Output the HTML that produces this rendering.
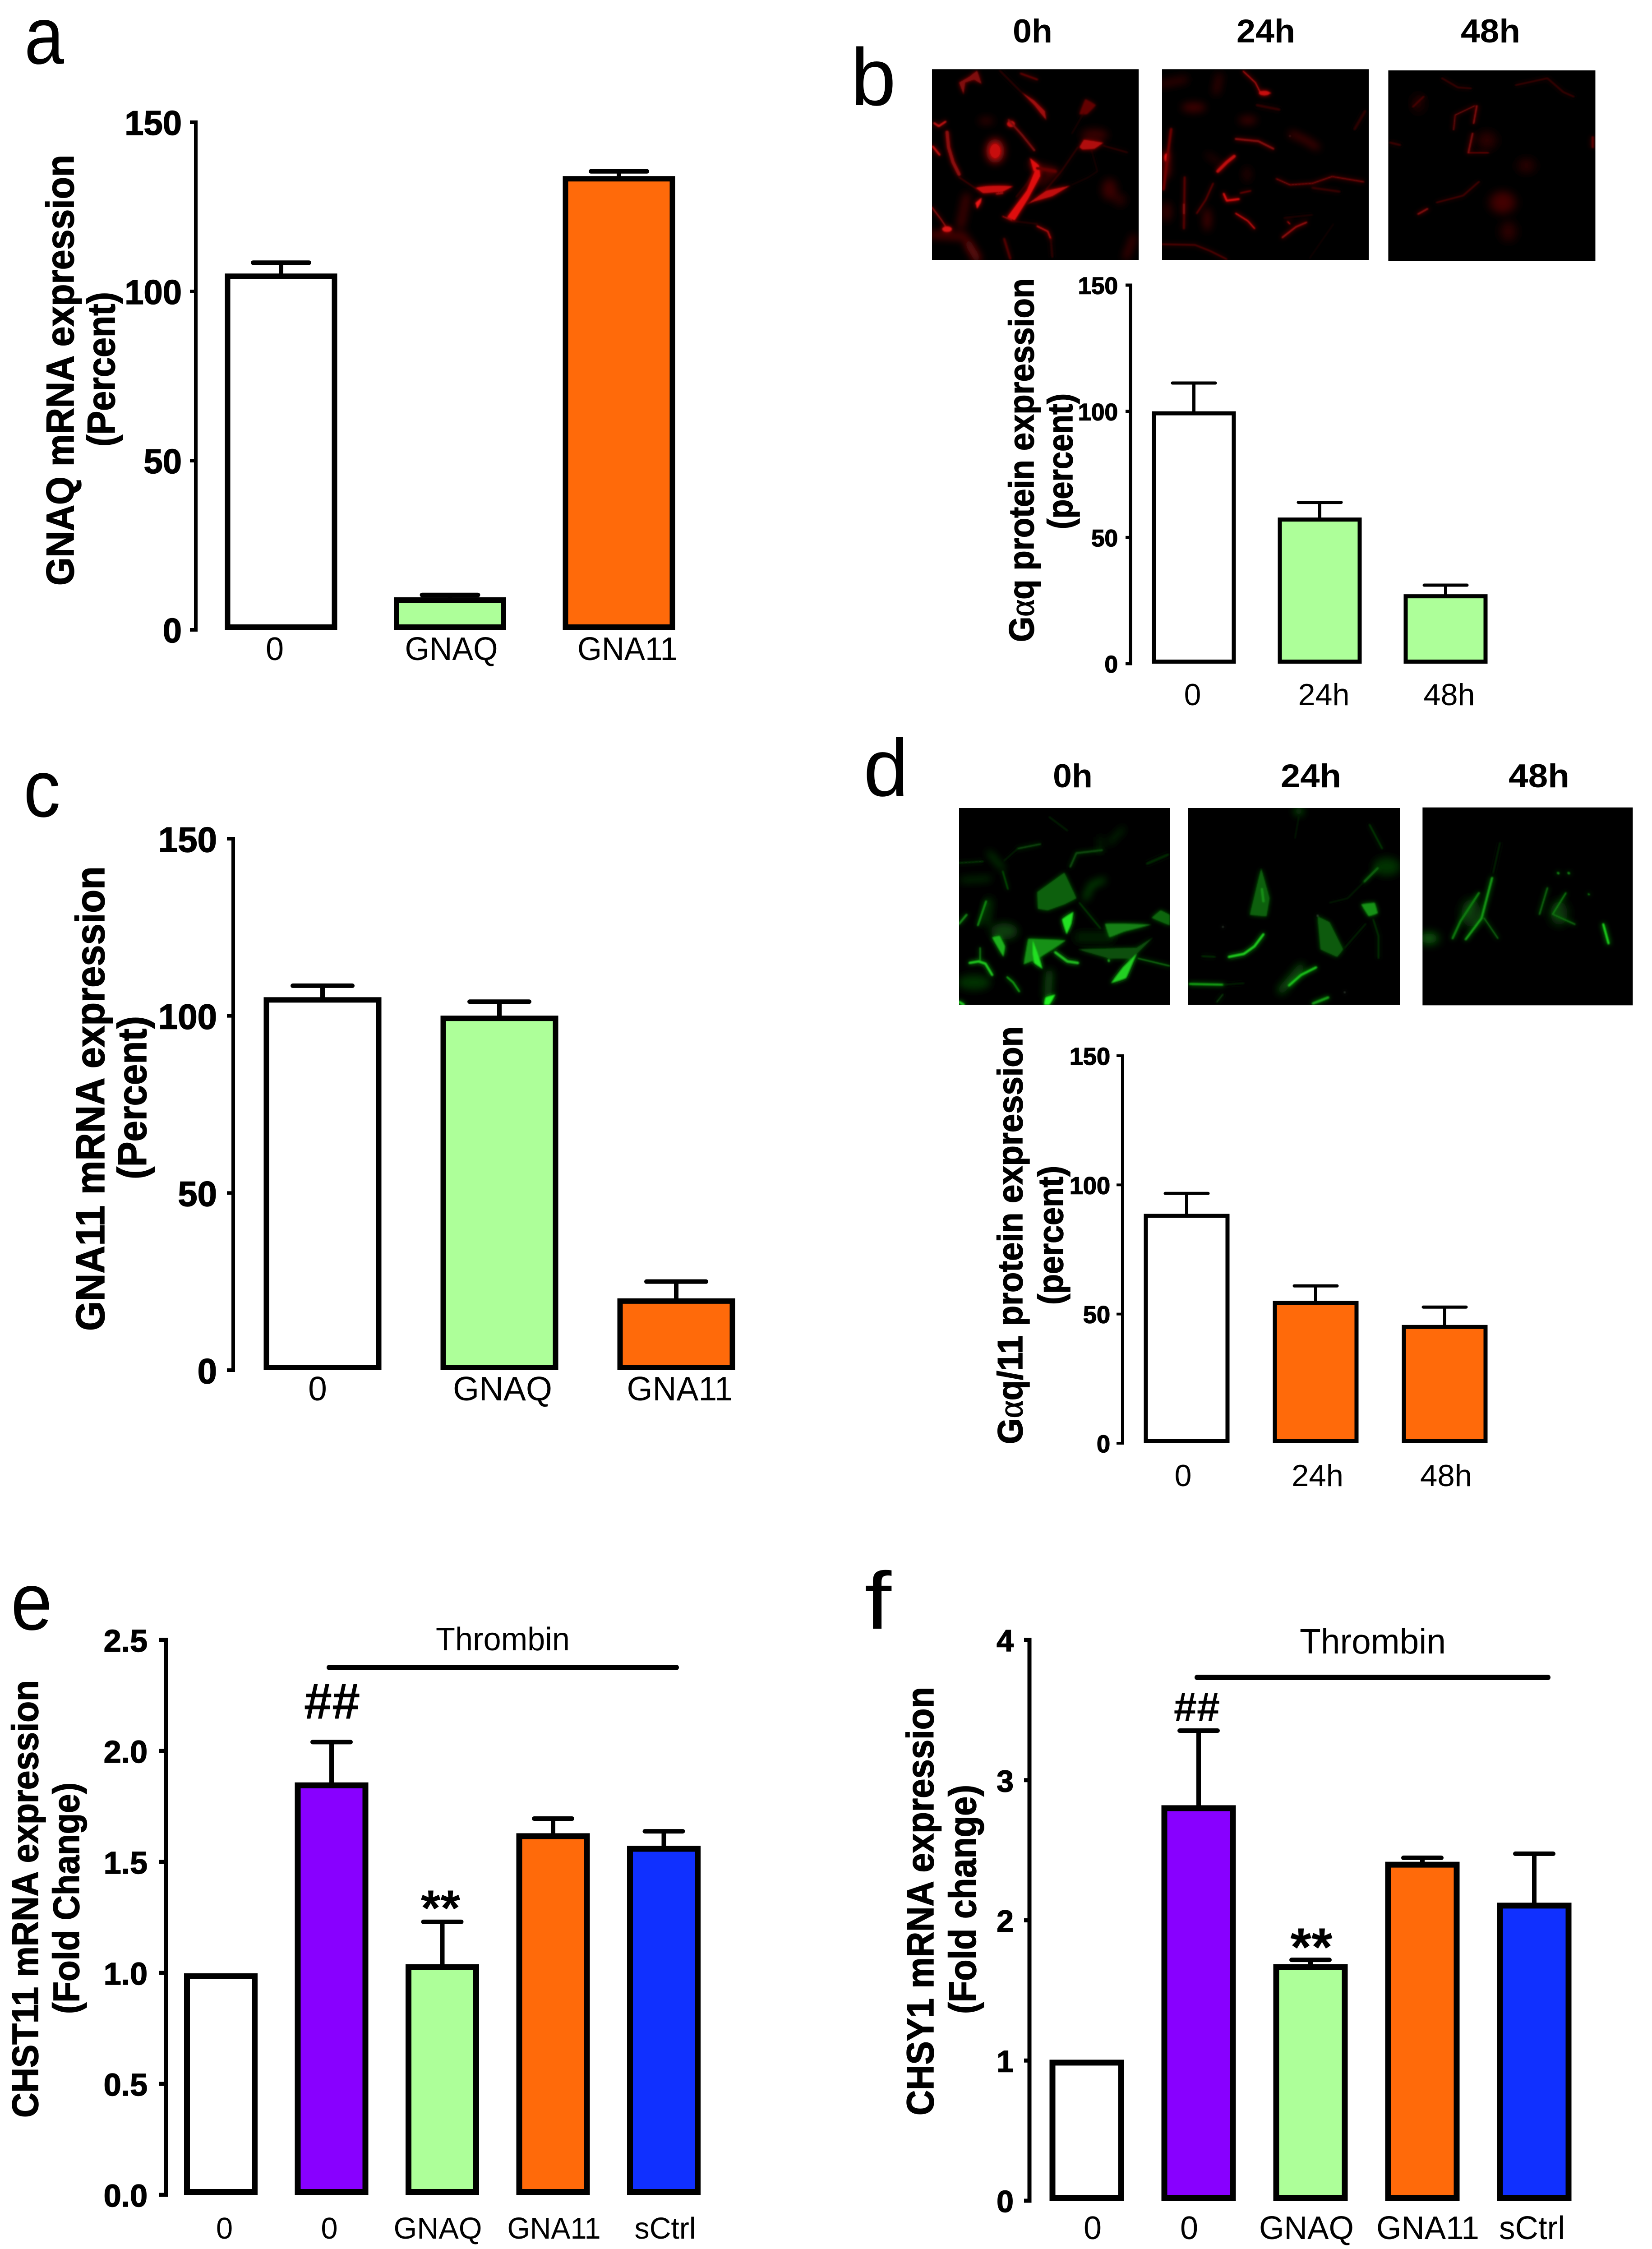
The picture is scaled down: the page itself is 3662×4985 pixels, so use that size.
<!DOCTYPE html>
<html lang="en">
<head>
<meta charset="utf-8">
<title>GNAQ and GNA11 knockdown figure</title>
<style>
html,body{margin:0;padding:0;background:#fff;}
svg{display:block;}
text{font-family:"Liberation Sans",Arial,sans-serif;fill:#000;}
.letter{font-size:180px;font-weight:400;}
.ihead{font-size:73px;font-weight:700;}
.ytitle{font-weight:700;stroke:#000;stroke-width:1.5px;}
.alpha{font-family:"Liberation Serif",serif;font-weight:400;}
</style>
</head>
<body>
<svg id="fig" xmlns="http://www.w3.org/2000/svg" width="3662" height="4985" viewBox="0 0 3662 4985">
<defs>
<filter id="soft" x="-10%" y="-10%" width="120%" height="120%"><feGaussianBlur stdDeviation="1.4" result="s"/><feGaussianBlur in="SourceGraphic" stdDeviation="5" result="w"/><feMerge><feMergeNode in="w"/><feMergeNode in="s"/></feMerge></filter>
<filter id="wide" x="-30%" y="-30%" width="160%" height="160%"><feGaussianBlur stdDeviation="9"/></filter>
<filter id="soft3" x="-5%" y="-5%" width="110%" height="110%"><feGaussianBlur stdDeviation="5" result="s"/><feGaussianBlur in="SourceGraphic" stdDeviation="16" result="w"/><feMerge><feMergeNode in="w"/><feMergeNode in="s"/></feMerge></filter>
<filter id="wide3" x="-10%" y="-10%" width="120%" height="120%"><feGaussianBlur stdDeviation="26"/></filter>
<clipPath id="cb1"><rect x="0" y="0" width="1374" height="1269"/></clipPath>
<clipPath id="cb2"><rect x="0" y="0" width="1374" height="1269"/></clipPath>
<clipPath id="cb3"><rect x="1068" y="153" width="393" height="414"/></clipPath>
<clipPath id="cd1"><rect x="0" y="0" width="1401" height="1308"/></clipPath>
<clipPath id="cd2"><rect x="0" y="0" width="1410" height="1308"/></clipPath>
<clipPath id="cd3"><rect x="1133" y="170" width="399" height="393"/></clipPath>
</defs>
<rect x="0" y="0" width="3662" height="4985" fill="#ffffff"/>

<text class="letter" x="54" y="141" textLength="88" lengthAdjust="spacingAndGlyphs">a</text>
<text class="letter" x="1886" y="233">b</text>
<text class="letter" x="52" y="1810" textLength="82" lengthAdjust="spacingAndGlyphs">c</text>
<text class="letter" x="1914" y="1764">d</text>
<text class="letter" x="24" y="3612" textLength="92" lengthAdjust="spacingAndGlyphs">e</text>
<text class="letter" x="1916" y="3610" textLength="60" lengthAdjust="spacingAndGlyphs">f</text>

<text class="ihead" x="2245" y="94" textLength="88" lengthAdjust="spacingAndGlyphs">0h</text>
<text class="ihead" x="2741" y="94" textLength="130" lengthAdjust="spacingAndGlyphs">24h</text>
<text class="ihead" x="3238" y="94" textLength="132" lengthAdjust="spacingAndGlyphs">48h</text>
<text class="ihead" x="2334" y="1745" textLength="88" lengthAdjust="spacingAndGlyphs">0h</text>
<text class="ihead" x="2839" y="1745" textLength="134" lengthAdjust="spacingAndGlyphs">24h</text>
<text class="ihead" x="3344" y="1745" textLength="135" lengthAdjust="spacingAndGlyphs">48h</text>

<!-- Red micrographs -->
<g transform="translate(2066,153) scale(0.33333)" fill="none" stroke-linecap="round" stroke-linejoin="round">
  <rect width="1374" height="1269" fill="#000"/>
  <g clip-path="url(#cb1)">
    <g filter="url(#wide3)">
      <ellipse cx="420" cy="545" rx="60" ry="80" fill="#a00a0a"/>
      <ellipse cx="1180" cy="800" rx="50" ry="70" fill="#3a0303"/>
      <ellipse cx="1250" cy="870" rx="40" ry="40" fill="#2c0202"/>
      <ellipse cx="360" cy="345" rx="50" ry="20" fill="#3c0303"/>
      <ellipse cx="1080" cy="440" rx="90" ry="40" fill="#3a0303"/>
      <path d="M230 850 L190 1040" stroke="#420404" stroke-width="50"/>
      <path d="M660 640 L820 680 L720 760" stroke="#4a0404" stroke-width="40"/>
      <path d="M1340 1120 L1290 1250" stroke="#4a0404" stroke-width="36"/>
      <path d="M240 1160 L300 1260" stroke="#800808" stroke-width="46"/>
      <path d="M0 1100 L220 1115" stroke="#600606" stroke-width="40"/>
    </g>
    <g filter="url(#soft3)">
      <path d="M500 985 L630 810 L680 690 L650 590 L710 640 L720 710 L640 860 L550 1005 Z" fill="#e01010"/>
      <path d="M630 900 L760 810 L920 775 L800 845 L680 880 Z" fill="#c00c0c"/>
      <path d="M290 790 Q390 770 540 780 L470 815 L340 825 Z" fill="#c80e0e"/>
      <path d="M300 930 L290 890 L330 855 L325 885 Z" fill="#f01818"/>
      <path d="M180 90 L250 50 L300 10 L330 100 L280 70 L220 90 L210 170 Z" fill="#800808"/>
      <ellipse cx="525" cy="365" rx="26" ry="20" fill="#c00c0c"/>
      <ellipse cx="420" cy="545" rx="34" ry="46" fill="#c81010"/>
      <path d="M590 150 L680 210 L750 280 L760 340 L680 240 Z" fill="#a00a0a"/>
      <path d="M510 340 L600 440 L680 540" stroke="#780707" stroke-width="14"/>
      <path d="M980 520 L1010 470 L1140 490 L1080 530 L1000 535 Z" fill="#b00a0a"/>
      <path d="M980 300 L1020 200 L1090 240 L1030 300 Z" fill="#640606"/>
      <path d="M100 420 L110 520 L140 620 L180 700" stroke="#8c0808" stroke-width="22"/>
      <path d="M15 360 L45 380 L90 350" stroke="#d81212" stroke-width="11"/>
      <path d="M5 515 L50 570" stroke="#c80c0c" stroke-width="13"/>
      <path d="M0 920 L60 1000 L100 1060" stroke="#a00a0a" stroke-width="8"/>
      <ellipse cx="100" cy="1065" rx="32" ry="18" fill="#d81212"/>
      <path d="M700 1045 L770 1080 L790 1130" stroke="#b80a0a" stroke-width="11"/>
      <path d="M470 980 L530 1005" stroke="#a00a0a" stroke-width="8"/>
      <path d="M530 1010 L700 1030" stroke="#500505" stroke-width="4"/>
      <path d="M480 1130 L520 1260" stroke="#560505" stroke-width="14"/>
      <path d="M790 1130 L800 1250" stroke="#380303" stroke-width="10"/>
      <path d="M970 520 L860 680 L760 800" stroke="#640606" stroke-width="4"/>
      <path d="M1060 540 L1100 680 L1040 720 L930 770" stroke="#420404" stroke-width="3"/>
      <path d="M1140 510 L1300 555" stroke="#560505" stroke-width="5"/>
      <path d="M680 680 L640 750 L560 850" stroke="#480404" stroke-width="6"/>
      <path d="M700 660 L820 680" stroke="#640606" stroke-width="20"/>
      <path d="M300 800 L180 720" stroke="#560505" stroke-width="6"/>
      <path d="M590 30 L700 70" stroke="#700606" stroke-width="10"/>
      <path d="M1010 290 L930 430" stroke="#380303" stroke-width="4"/>
      <path d="M430 830 L470 825" stroke="#b00a0a" stroke-width="10"/>
      <path d="M450 10 L590 150" stroke="#400404" stroke-width="6"/>
    </g>
  </g>
  <rect width="1374" height="3" fill="#555"/>
</g>
<g transform="translate(2576,153) scale(0.33333)" fill="none" stroke-linecap="round" stroke-linejoin="round">
  <rect width="1374" height="1269" fill="#000"/>
  <g clip-path="url(#cb2)">
    <g filter="url(#wide3)">
      <path d="M0 100 L150 70" stroke="#300303" stroke-width="46"/>
      <ellipse cx="210" cy="255" rx="80" ry="30" fill="#440404"/>
      <path d="M380 50 L360 150" stroke="#300303" stroke-width="46"/>
      <ellipse cx="570" cy="340" rx="60" ry="24" fill="#440404"/>
      <path d="M300 570 L390 630" stroke="#3a0303" stroke-width="22"/>
      <ellipse cx="300" cy="1000" rx="24" ry="76" fill="#480404"/>
      <ellipse cx="30" cy="950" rx="32" ry="64" fill="#380303"/>
      <path d="M860 430 L950 470 L1030 520" stroke="#580505" stroke-width="32"/>
      <path d="M30 560 L30 700" stroke="#600606" stroke-width="40"/>
      <ellipse cx="565" cy="700" rx="24" ry="50" fill="#2c0202"/>
    </g>
    <g filter="url(#soft3)">
      <ellipse cx="28" cy="590" rx="12" ry="28" fill="#f01616"/>
      <path d="M60 400 L40 550 L10 800" stroke="#700606" stroke-width="16"/>
      <path d="M540 15 L620 90 L650 150 L720 160" stroke="#c00c0c" stroke-width="8"/>
      <ellipse cx="680" cy="160" rx="36" ry="15" fill="#c80c0c"/>
      <path d="M490 465 L640 480 L740 530" stroke="#8c0808" stroke-width="13"/>
      <path d="M370 680 L430 620 L480 580" stroke="#c00c0c" stroke-width="20"/>
      <path d="M340 760 L290 870 L230 960" stroke="#800808" stroke-width="7"/>
      <path d="M150 720 L145 1060" stroke="#600606" stroke-width="12"/>
      <path d="M145 900 L145 960" stroke="#900808" stroke-width="12"/>
      <path d="M410 830 L430 875 L510 865" stroke="#e01010" stroke-width="13"/>
      <path d="M520 825 L590 810" stroke="#a00a0a" stroke-width="6"/>
      <path d="M490 960 L570 1010 L615 1060" stroke="#dc1010" stroke-width="9"/>
      <path d="M760 730 L850 770 L1000 760 L1130 715 L1340 750" stroke="#8c0808" stroke-width="8"/>
      <path d="M1000 790 L1180 815" stroke="#440404" stroke-width="10"/>
      <path d="M800 1120 L890 1050 L960 1020" stroke="#a00a0a" stroke-width="11"/>
      <path d="M810 990 L1000 970" stroke="#3a0303" stroke-width="5"/>
      <path d="M835 1015 L850 1030" stroke="#d01010" stroke-width="7"/>
      <path d="M0 1165 L220 1170 L320 1210 L430 1265" stroke="#800808" stroke-width="6"/>
      <path d="M630 240 L780 270" stroke="#3a0303" stroke-width="12"/>
      <path d="M1350 280 L1280 400" stroke="#300303" stroke-width="14"/>
      <path d="M980 1260 L1140 1030" stroke="#300303" stroke-width="3"/>
      <path d="M850 445 L851 446" stroke="#a04040" stroke-width="6"/>
    </g>
  </g>
  <rect width="1374" height="3" fill="#555"/>
</g>
<g transform="translate(1830,0) scale(1.168,1.02)" fill="none" stroke-linecap="round" stroke-linejoin="round">
  <rect x="1068" y="153" width="393" height="414" fill="#000"/>
  <g clip-path="url(#cb3)">
    <g filter="url(#wide)">
      <ellipse cx="1330" cy="360" rx="16" ry="16" fill="#2c0202"/>
      <ellipse cx="1285" cy="440" rx="24" ry="24" fill="#420404"/>
      <ellipse cx="1296" cy="503" rx="14" ry="22" fill="#2e0202"/>
      <ellipse cx="1125" cy="225" rx="10" ry="22" fill="#220202"/>
      <ellipse cx="1255" cy="305" rx="18" ry="20" fill="#2c0202"/>
    </g>
    <g filter="url(#soft)">
      <path d="M1192 282 L1195 250 L1232 230" stroke="#700707" stroke-width="2.5"/>
      <path d="M1230 268 L1236 230" stroke="#900808" stroke-width="3"/>
      <path d="M1220 332 L1228 290" stroke="#800707" stroke-width="3.5"/>
      <path d="M1220 332 L1258 332" stroke="#800707" stroke-width="2"/>
      <path d="M1240 395 L1210 425 L1160 440" stroke="#480404" stroke-width="3"/>
      <path d="M1125 465 L1142 454" stroke="#800707" stroke-width="4"/>
      <path d="M1135 210 L1115 232" stroke="#500505" stroke-width="3"/>
      <path d="M1170 170 L1200 190 L1225 192" stroke="#3c0303" stroke-width="3"/>
      <path d="M1310 185 L1370 170 L1400 200 L1420 210" stroke="#3c0303" stroke-width="3"/>
      <path d="M1456 298 L1456 320" stroke="#640606" stroke-width="4"/>
      <path d="M1072 310 L1090 315" stroke="#3c0303" stroke-width="4"/>
    </g>
  </g>
</g>

<!-- Green micrographs -->
<g transform="translate(2126,1791) scale(0.33333)" fill="none" stroke-linecap="round" stroke-linejoin="round">
  <rect width="1401" height="1308" fill="#000"/>
  <g clip-path="url(#cd1)">
    <g filter="url(#wide3)">
      <ellipse cx="100" cy="1160" rx="110" ry="50" fill="#063206"/>
      <ellipse cx="300" cy="820" rx="90" ry="55" fill="#083c08"/>
      <path d="M600 1100 L590 1240" stroke="#084808" stroke-width="50"/>
      <path d="M840 600 L880 510 L960 480" stroke="#0a560a" stroke-width="30"/>
      <path d="M1000 230 L1090 140" stroke="#073807" stroke-width="24"/>
      <path d="M940 200 L940 290" stroke="#063206" stroke-width="22"/>
      <path d="M200 300 L290 400" stroke="#0a500a" stroke-width="24"/>
      <path d="M20 480 L200 470" stroke="#084008" stroke-width="24"/>
      <path d="M200 620 L180 760" stroke="#063206" stroke-width="50"/>
      <path d="M800 860 L1000 860" stroke="#042004" stroke-width="70"/>
    </g>
    <g filter="url(#soft3)">
      <path d="M685 740 L760 690 L745 770 L715 840 Z" fill="#22e022"/>
      <path d="M520 560 L700 430 L780 600 L700 640 L590 680 L525 670 Z" fill="#116011"/>
      <path d="M460 870 L710 880 L620 940 L540 990 L430 1040 Z" fill="#169016"/>
      <path d="M490 880 L520 960 L555 1070 L500 1030 L490 970 Z" fill="#22e022"/>
      <path d="M640 960 L720 1020 L790 1030" stroke="#22c022" stroke-width="16"/>
      <path d="M790 940 L1180 930 L1290 860 L1150 1000 L1000 1000 Z" fill="#0c500c"/>
      <path d="M1010 1165 L1090 1060 L1180 970 L1110 1130 Z" fill="#20d020"/>
      <path d="M1190 1000 L1400 1050" stroke="#14a014" stroke-width="6"/>
      <path d="M970 770 L1100 770 L1280 775 L1100 820 L1000 860 Z" fill="#128012"/>
      <path d="M1280 730 L1340 680 L1400 710 L1400 780 Z" fill="#0e660e"/>
      <path d="M220 860 L270 850 L305 920 L295 990 Z" fill="#1ab01a"/>
      <path d="M70 1030 L130 1020 L175 1035 L220 1110" stroke="#20d020" stroke-width="14"/>
      <path d="M140 930 L140 1010" stroke="#169016" stroke-width="8"/>
      <path d="M320 1125 L360 1160 L400 1220" stroke="#18b018" stroke-width="10"/>
      <path d="M565 1308 L575 1260 L640 1240 L600 1308 Z" fill="#22f022"/>
      <path d="M125 780 L180 620" stroke="#18a018" stroke-width="10"/>
      <path d="M0 770 L50 710" stroke="#169016" stroke-width="12"/>
      <path d="M290 420 L325 540" stroke="#107810" stroke-width="6"/>
      <path d="M0 365 L160 355" stroke="#084008" stroke-width="8"/>
      <path d="M390 270 L540 240" stroke="#0a500a" stroke-width="10"/>
      <path d="M300 350 L390 270" stroke="#063606" stroke-width="5"/>
      <path d="M740 390 L780 300 L950 280" stroke="#0a500a" stroke-width="12"/>
      <path d="M1250 370 L1390 310" stroke="#063206" stroke-width="12"/>
      <path d="M800 630 L940 800" stroke="#0e660e" stroke-width="5"/>
      <path d="M600 60 L720 150" stroke="#052805" stroke-width="8"/>
      <path d="M0 1290 L30 1308" stroke="#20d020" stroke-width="16"/>
      <path d="M995 1012 L996 1018" stroke="#20c020" stroke-width="12"/>
    </g>
  </g>
</g>
<g transform="translate(2634,1791) scale(0.33333)" fill="none" stroke-linecap="round" stroke-linejoin="round">
  <rect width="1410" height="1308" fill="#000"/>
  <g clip-path="url(#cd2)">
    <g filter="url(#wide3)">
      <ellipse cx="1320" cy="390" rx="90" ry="60" fill="#063206"/>
      <path d="M620 1210 L750 1060" stroke="#0c500c" stroke-width="50"/>
      <ellipse cx="735" cy="20" rx="28" ry="28" fill="#0c5a0c"/>
    </g>
    <g filter="url(#soft3)">
      <path d="M270 990 L370 970 L440 920 L500 840" stroke="#22d822" stroke-width="14"/>
      <path d="M90 985 L180 990" stroke="#084408" stroke-width="6"/>
      <path d="M10 1170 L230 1175" stroke="#18b018" stroke-width="12"/>
      <path d="M230 1175 L370 1165" stroke="#063206" stroke-width="6"/>
      <path d="M485 400 L540 600 L520 720 L410 710 Z" fill="#0e600e"/>
      <path d="M490 540 L500 620" stroke="#149014" stroke-width="16"/>
      <path d="M670 1180 L750 1110 L850 1060" stroke="#1cc81c" stroke-width="14"/>
      <path d="M860 720 L940 760 L1030 940 L990 990 L880 940 Z" fill="#0c5a0c"/>
      <path d="M1150 640 L1240 630 L1260 700 L1200 720 Z" fill="#149014"/>
      <path d="M1170 490 L1260 400" stroke="#0e660e" stroke-width="14"/>
      <path d="M940 630 L1060 600 L1170 490" stroke="#063206" stroke-width="5"/>
      <path d="M1205 110 L1290 270" stroke="#0c5a0c" stroke-width="6"/>
      <path d="M1230 740 L1265 850 L1265 1000" stroke="#0c5a0c" stroke-width="5"/>
      <path d="M1040 930 L1180 770" stroke="#063606" stroke-width="6"/>
      <path d="M830 1300 L930 1260" stroke="#18a018" stroke-width="16"/>
      <path d="M735 60 L710 200" stroke="#052805" stroke-width="5"/>
      <path d="M230 1240 L190 1290" stroke="#084408" stroke-width="8"/>
      <path d="M230 790 L231 791" stroke="#90b090" stroke-width="6"/>
      <path d="M1040 1225 L1041 1226" stroke="#90b090" stroke-width="6"/>
      <path d="M860 715 L861 716" stroke="#507050" stroke-width="8"/>
    </g>
  </g>
</g>
<g transform="translate(1830,1600) scale(1.168,1.116)" fill="none" stroke-linecap="round" stroke-linejoin="round">
  <rect x="1133" y="170" width="399" height="393" fill="#000"/>
  <g clip-path="url(#cd3)">
    <g filter="url(#wide)">
      <ellipse cx="1145" cy="430" rx="18" ry="10" fill="#0c700c"/>
      <ellipse cx="1225" cy="380" rx="18" ry="28" fill="#073a07"/>
      <ellipse cx="1392" cy="380" rx="16" ry="24" fill="#073a07"/>
    </g>
    <g filter="url(#soft)">
      <path d="M1190 430 L1205 396 L1240 340" stroke="#0e800e" stroke-width="4"/>
      <path d="M1215 432 L1245 390 L1265 310" stroke="#14a014" stroke-width="4"/>
      <path d="M1250 390 L1276 430" stroke="#0c700c" stroke-width="2.5"/>
      <path d="M1355 382 L1370 330" stroke="#0c700c" stroke-width="3"/>
      <path d="M1380 382 L1405 340" stroke="#0e800e" stroke-width="3"/>
      <path d="M1380 382 L1422 402" stroke="#0c700c" stroke-width="3"/>
      <path d="M1476 402 L1486 440" stroke="#1ed81e" stroke-width="4"/>
      <path d="M1390 300 L1391 301" stroke="#149a14" stroke-width="4"/>
      <path d="M1410 300 L1411 301" stroke="#149a14" stroke-width="4"/>
      <path d="M1448 342 L1449 343" stroke="#108c10" stroke-width="3"/>
      <path d="M1267 300 L1280 240" stroke="#063206" stroke-width="2"/>
    </g>
  </g>
</g>

<!-- Y titles -->
<g>
  <text class="ytitle" font-size="86" transform="translate(163,1298) rotate(-90)" textLength="955" lengthAdjust="spacingAndGlyphs">GNAQ mRNA expression</text>
  <text class="ytitle" font-size="86" transform="translate(254,990) rotate(-90)" textLength="343" lengthAdjust="spacingAndGlyphs">(Percent)</text>
  <text class="ytitle" font-size="78" transform="translate(2291,1423) rotate(-90)" textLength="806" lengthAdjust="spacingAndGlyphs">G<tspan class="alpha">α</tspan>q protein expression</text>
  <text class="ytitle" font-size="78" transform="translate(2377,1173) rotate(-90)" textLength="301" lengthAdjust="spacingAndGlyphs">(percent)</text>
  <text class="ytitle" font-size="90" transform="translate(231,2950) rotate(-90)" textLength="1030" lengthAdjust="spacingAndGlyphs">GNA11 mRNA expression</text>
  <text class="ytitle" font-size="90" transform="translate(324,2614) rotate(-90)" textLength="362" lengthAdjust="spacingAndGlyphs">(Percent)</text>
  <text class="ytitle" font-size="78" transform="translate(2266,3201) rotate(-90)" textLength="926" lengthAdjust="spacingAndGlyphs">G<tspan class="alpha">α</tspan>q/11 protein expression</text>
  <text class="ytitle" font-size="78" transform="translate(2356,2892) rotate(-90)" textLength="308" lengthAdjust="spacingAndGlyphs">(percent)</text>
  <text class="ytitle" font-size="82" transform="translate(84,4694) rotate(-90)" textLength="970" lengthAdjust="spacingAndGlyphs">CHST11 mRNA expression</text>
  <text class="ytitle" font-size="82" transform="translate(175,4464) rotate(-90)" textLength="513" lengthAdjust="spacingAndGlyphs">(Fold Change)</text>
  <text class="ytitle" font-size="84" transform="translate(2069,4689) rotate(-90)" textLength="950" lengthAdjust="spacingAndGlyphs">CHSY1 mRNA expression</text>
  <text class="ytitle" font-size="84" transform="translate(2163,4464) rotate(-90)" textLength="508" lengthAdjust="spacingAndGlyphs">(Fold change)</text>
</g>

<!-- Thrombin brackets -->
<text x="966" y="3658" font-size="72" textLength="297" lengthAdjust="spacingAndGlyphs">Thrombin</text>
<line x1="730" y1="3696" x2="1499" y2="3696" stroke="#000" stroke-width="12" stroke-linecap="round"/>
<text x="2881" y="3665" font-size="78" textLength="324" lengthAdjust="spacingAndGlyphs">Thrombin</text>
<line x1="2654" y1="3718" x2="3431" y2="3718" stroke="#000" stroke-width="12" stroke-linecap="round"/>

<g id="charts"></g>
</svg>

<script>
// ---- Chart data ----
const aCategories = ['0', 'GNAQ', 'GNA11'];
const aValues = [104.5, 8.8, 133.3];
const aErrorTops = [108.5, 10.3, 135.5];
const aTickLabels = ['0', '50', '100', '150'];

const bCategories = ['0', '24h', '48h'];
const bValues = [99.2, 57.1, 26.7];
const bErrorTops = [111.2, 63.9, 31.1];
const bTickLabels = ['0', '50', '100', '150'];

const cCategories = ['0', 'GNAQ', 'GNA11'];
const cValues = [104.5, 99.3, 19.5];
const cErrorTops = [108.5, 104, 25];
const cTickLabels = ['0', '50', '100', '150'];

const dCategories = ['0', '24h', '48h'];
const dValues = [88, 54.3, 45];
const dErrorTops = [96.7, 60.9, 52.7];
const dTickLabels = ['0', '50', '100', '150'];

const eCategories = ['0', '0', 'GNAQ', 'GNA11', 'sCtrl'];
const eValues = [0.985, 1.845, 1.026, 1.616, 1.559];
const eErrorTops = [0.985, 2.04, 1.23, 1.695, 1.638];
const eTickLabels = ['0.0', '0.5', '1.0', '1.5', '2.0', '2.5'];

const fCategories = ['0', '0', 'GNAQ', 'GNA11', 'sCtrl'];
const fValues = [0.985, 2.8, 1.667, 2.397, 2.105];
const fErrorTops = [0.985, 3.353, 1.718, 2.446, 2.475];
const fTickLabels = ['0', '1', '2', '3', '4'];

// ---- Styling ----
const WHITE = '#ffffff', GREEN = '#adff99', ORANGE = '#ff6a0a', PURPLE = '#8800ff', BLUE = '#1030ff';
const svgNS = 'http://www.w3.org/2000/svg';
const root = document.getElementById('charts');

function node(tag, attrs, parent, name) {
  const el = document.createElementNS(svgNS, tag);
  for (const k in attrs) el.setAttribute(k, attrs[k]);
  
  
  parent.appendChild(el);
  return el;
}

function drawChart(id, cats, values, errs, tickLabels, fills, L) {
  const g = node('g', {}, root, 'chart-' + id);
  const maxV = parseFloat(tickLabels[tickLabels.length - 1]);
  const y = v => L.y0 - (v / maxV) * (L.y0 - L.yTop);
  const x = i => L.first + i * L.step;

  // axis
  node('line', {x1: L.axisX, x2: L.axisX, y1: L.yTop - L.axisW / 2, y2: L.y0 + L.axisW / 2, stroke: '#000', 'stroke-width': L.axisW}, g, 'y-axis-' + id);
  tickLabels.forEach(lab => {
    const v = parseFloat(lab);
    node('line', {x1: L.tickLeft, x2: L.axisX, y1: y(v), y2: y(v), stroke: '#000', 'stroke-width': L.axisW}, g, 'y-tick-' + id + '-' + lab);
    const t = node('text', {x: L.labelRight, y: y(v) + L.tickFont * 0.37, 'text-anchor': 'end', 'font-size': L.tickFont, 'font-weight': 700, stroke: '#000', 'stroke-width': 1.5}, g, 'y-tick-label-' + id + '-' + lab);
    t.textContent = lab;
  });

  // bars, error bars and category labels
  cats.forEach((cat, i) => {
    const cx = x(i), top = y(values[i]), bottom = L.y0 - L.sw / 2, errY = y(errs[i]);
    if (errs[i] > values[i]) {
      node('line', {x1: cx, x2: cx, y1: top, y2: errY, stroke: '#000', 'stroke-width': L.capSw}, g, 'error-stem-' + id + '-' + i);
      node('line', {x1: cx - L.capW / 2 + L.capSw / 2, x2: cx + L.capW / 2 - L.capSw / 2, y1: errY, y2: errY, stroke: '#000', 'stroke-width': L.capSw, 'stroke-linecap': 'round'}, g, 'error-cap-' + id + '-' + i);
    }
    node('rect', {x: cx - L.barW / 2 + L.sw / 2, y: top, width: L.barW - L.sw, height: bottom - top, fill: fills[i], stroke: '#000', 'stroke-width': L.sw}, g, 'bar-' + id + '-' + i);
    const attrs = {x: cx + L.labelDx[i], y: L.labelBase, 'text-anchor': 'middle', 'font-size': L.labelFont};
    if (L.labelWidths[i]) { attrs.textLength = L.labelWidths[i]; attrs.lengthAdjust = 'spacingAndGlyphs'; }
    const t = node('text', attrs, g, 'x-label-' + id + '-' + i);
    t.textContent = cat;
  });

  // significance marks follow their bar's error cap
  (L.marks || []).forEach(m => {
    const t = node('text', {x: x(m.i) + m.dx, y: y(errs[m.i]) + m.dy, 'text-anchor': 'middle', 'font-size': m.size, 'font-weight': 700}, g, 'significance-' + id + '-' + m.i);
    t.textContent = m.text;
  });
}

drawChart('a', aCategories, aValues, aErrorTops, aTickLabels, [WHITE, GREEN, ORANGE], {
  axisX: 434, y0: 1396, yTop: 271, axisW: 8, tickLeft: 421, labelRight: 403, tickFont: 76,
  first: 623, step: 374.5, barW: 249, sw: 12, capW: 134, capSw: 10,
  labelBase: 1463, labelFont: 72, labelDx: [-14, 3, 19], labelWidths: [0, 206, 222]
});
drawChart('b', bCategories, bValues, bErrorTops, bTickLabels, [WHITE, GREEN, GREEN], {
  axisX: 2506, y0: 1471, yTop: 632, axisW: 7, tickLeft: 2495, labelRight: 2478, tickFont: 53,
  first: 2646.5, step: 279, barW: 186, sw: 9, capW: 102, capSw: 7,
  labelBase: 1563, labelFont: 68, labelDx: [-3, 9, 8], labelWidths: [0, 114, 114]
});
drawChart('c', cCategories, cValues, cErrorTops, cTickLabels, [WHITE, GREEN, ORANGE], {
  axisX: 517, y0: 3037, yTop: 1859, axisW: 8, tickLeft: 503, labelRight: 481, tickFont: 78,
  first: 715, step: 392, barW: 261, sw: 12, capW: 142, capSw: 10,
  labelBase: 3104, labelFont: 75, labelDx: [-11, 7, 8], labelWidths: [0, 220, 235]
});
drawChart('d', dCategories, dValues, dErrorTops, dTickLabels, [WHITE, ORANGE, ORANGE], {
  axisX: 2488, y0: 3199, yTop: 2340, axisW: 6, tickLeft: 2475, labelRight: 2461, tickFont: 54,
  first: 2630.5, step: 286, barW: 190, sw: 9, capW: 102, capSw: 7,
  labelBase: 3294, labelFont: 68, labelDx: [-8, 4, 3], labelWidths: [0, 115, 115]
});
drawChart('e', eCategories, eValues, eErrorTops, eTickLabels, [WHITE, PURPLE, GREEN, ORANGE, BLUE], {
  axisX: 368, y0: 4865, yTop: 3635, axisW: 9, tickLeft: 352, labelRight: 327, tickFont: 70,
  first: 489.5, step: 245.5, barW: 163, sw: 13, capW: 94, capSw: 10,
  labelBase: 4962, labelFont: 67, labelDx: [8, -5, -10, 2, 3], labelWidths: [0, 0, 196, 207, 136],
  marks: [{i: 1, text: '##', dx: 1, dy: -52, size: 112}, {i: 2, text: '**', dx: -4, dy: 8, size: 112}]
});
drawChart('f', fCategories, fValues, fErrorTops, fTickLabels, [WHITE, PURPLE, GREEN, ORANGE, BLUE], {
  axisX: 2282, y0: 4878, yTop: 3635, axisW: 9, tickLeft: 2270, labelRight: 2247, tickFont: 68,
  first: 2409, step: 248, barW: 165, sw: 13, capW: 94, capSw: 10,
  labelBase: 4963, labelFont: 72, labelDx: [13, -21, -9, 12, -5], labelWidths: [0, 0, 210, 228, 146],
  marks: [{i: 1, text: '##', dx: -4, dy: -21, size: 92}, {i: 2, text: '**', dx: 2, dy: 13, size: 120}]
});
</script>
</body>
</html>
